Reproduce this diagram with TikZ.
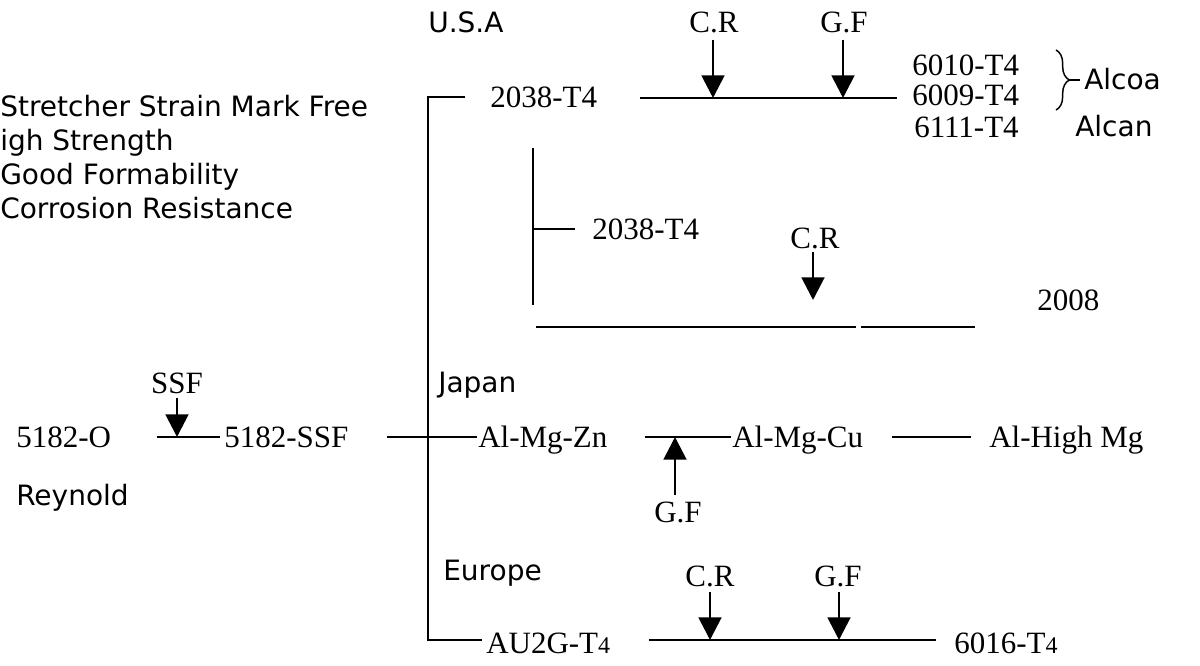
\documentclass[tikz,border=0pt]{standalone}
\usepackage{fontspec}
\setmainfont{Liberation Serif}
\newfontfamily\sansf{DejaVu Sans}
\usetikzlibrary{arrows.meta,decorations.pathreplacing}
\tikzset{
  ser/.style={font=\fontsize{23.25}{26}\selectfont, inner sep=0pt},
  san/.style={font=\sansf\fontsize{21}{25}\selectfont, inner sep=0pt},
  ln/.style={line width=1.1pt},
  arr/.style={line width=2.2pt, -{Triangle[width=17pt,length=17pt]}},
}
\newcommand{\smallfour}{{\fontsize{18}{20}\selectfont 4}}
\begin{document}
\begin{tikzpicture}[x=0.75pt,y=-0.75pt]
\useasboundingbox (0,0) rectangle (1200,666);
% left list
\node[san,anchor=base west] (p1) at (0,117) {Stretcher Strain Mark Free};
\node[san,anchor=base west] (p2) at (0,151) {igh Strength};
\node[san,anchor=base west] (p3) at (0,185) {Good Formability};
\node[san,anchor=base west] (p4) at (0,219) {Corrosion Resistance};
% USA
\node[san,anchor=base west] (usa) at (428,33) {U.S.A};
\node[ser,anchor=base] (cr1) at (714,32.5) {C.R};
\node[ser,anchor=base] (gf1) at (844,32.5) {G.F};
\node[ser,anchor=base west] (ta) at (490,107.5) {2038-T4};
\node[ser,anchor=base west] (n6010) at (912,75.5) {6010-T4};
\node[ser,anchor=base west] (n6009) at (912,105.5) {6009-T4};
\node[ser,anchor=base west] (n6111) at (914,137.5) {6111-T4};
\node[san,anchor=base west] (alcoa) at (1084,90) {Alcoa};
\node[san,anchor=base west] (alcan) at (1075,137) {Alcan};
\coordinate (la1) at (640,98);
\coordinate (la2) at (897,98);
\coordinate (cra) at (713,40);
\coordinate (crat) at (713,98);
\coordinate (gfa) at (843,40);
\coordinate (gfat) at (843,98);
\draw[ln] (la1) -- (la2);
\draw[arr] (cra) -- (crat);
\draw[arr] (gfa) -- (gfat);
\coordinate (bra) at (1056,50);
\coordinate (brb) at (1056,110);
\coordinate (brtip) at (1069,80);
\coordinate (brdash) at (1080,80);
\draw[ln,decorate,decoration={brace,amplitude=10pt}] (bra) -- (brb);
\draw[ln] (brtip) -- (brdash);
% main vertical
\coordinate (vtop) at (428,97);
\coordinate (s1e) at (465,97);
\coordinate (vbot) at (428,640);
\coordinate (s3e) at (482,640);
\draw[ln] (s1e) -- (vtop) -- (vbot) -- (s3e);
% inner branch
\coordinate (itop) at (533,148);
\coordinate (ibot) at (533,305);
\coordinate (is) at (533,229);
\coordinate (ise) at (575,229);
\draw[ln] (itop) -- (ibot);
\draw[ln] (is) -- (ise);
\node[ser,anchor=base west] (tb) at (592,239.5) {2038-T4};
\node[ser,anchor=base] (cr2) at (815,248.5) {C.R};
\coordinate (crb) at (813,252);
\coordinate (crbt) at (813,300);
\draw[arr] (crb) -- (crbt);
\coordinate (h1) at (536,327);
\coordinate (h2) at (856,327);
\coordinate (h3) at (861,327);
\coordinate (h4) at (975,327);
\draw[ln] (h1) -- (h2);
\draw[ln] (h3) -- (h4);
\node[ser,anchor=base west] (y2008) at (1037,310.5) {2008};
% Japan
\node[san,anchor=base west] (japan) at (438,393) {Japan};
\node[ser,anchor=base] (ssf) at (177,393.5) {SSF};
\node[ser,anchor=base west] (o5182) at (16,447.5) {5182-O};
\node[ser,anchor=base west] (ssf5182) at (224,447.5) {5182-SSF};
\node[ser,anchor=base west] (zn) at (478,447.5) {Al-Mg-Zn};
\node[ser,anchor=base west] (cu) at (732,447.5) {Al-Mg-Cu};
\node[ser,anchor=base west] (hmg) at (989,447.5) {Al-High Mg};
\node[ser,anchor=base] (gf2) at (678,522.5) {G.F};
\node[san,anchor=base west] (reynold) at (16,505) {Reynold};
\coordinate (ssfa) at (177,398);
\coordinate (ssft) at (177,437);
\coordinate (j0a) at (157,437);
\coordinate (j0b) at (220,437);
\coordinate (j1a) at (387,437);
\coordinate (j1b) at (477,437);
\coordinate (j2a) at (645,437);
\coordinate (j2b) at (731,437);
\coordinate (j3a) at (892,437);
\coordinate (j3b) at (971,437);
\coordinate (gfb) at (675,495);
\coordinate (gfbt) at (675,437);
\draw[ln] (j0a) -- (j0b);
\draw[ln] (j1a) -- (j1b);
\draw[ln] (j2a) -- (j2b);
\draw[ln] (j3a) -- (j3b);
\draw[arr] (ssfa) -- (ssft);
\draw[arr] (gfb) -- (gfbt);
% Europe
\node[san,anchor=base west] (europe) at (443,580) {Europe};
\node[ser,anchor=base] (cr3) at (710,586.5) {C.R};
\node[ser,anchor=base] (gf3) at (838,586.5) {G.F};
\node[ser,anchor=base west] (au2g) at (486,653.5) {AU2G-T\smallfour};
\node[ser,anchor=base west] (n6016) at (954,653.5) {6016-T\smallfour};
\coordinate (e1) at (649,640);
\coordinate (e2) at (936,640);
\coordinate (cre) at (710,592);
\coordinate (cret) at (710,640);
\coordinate (gfe) at (839,592);
\coordinate (gfet) at (839,640);
\draw[ln] (e1) -- (e2);
\draw[arr] (cre) -- (cret);
\draw[arr] (gfe) -- (gfet);
\end{tikzpicture}
\end{document}
